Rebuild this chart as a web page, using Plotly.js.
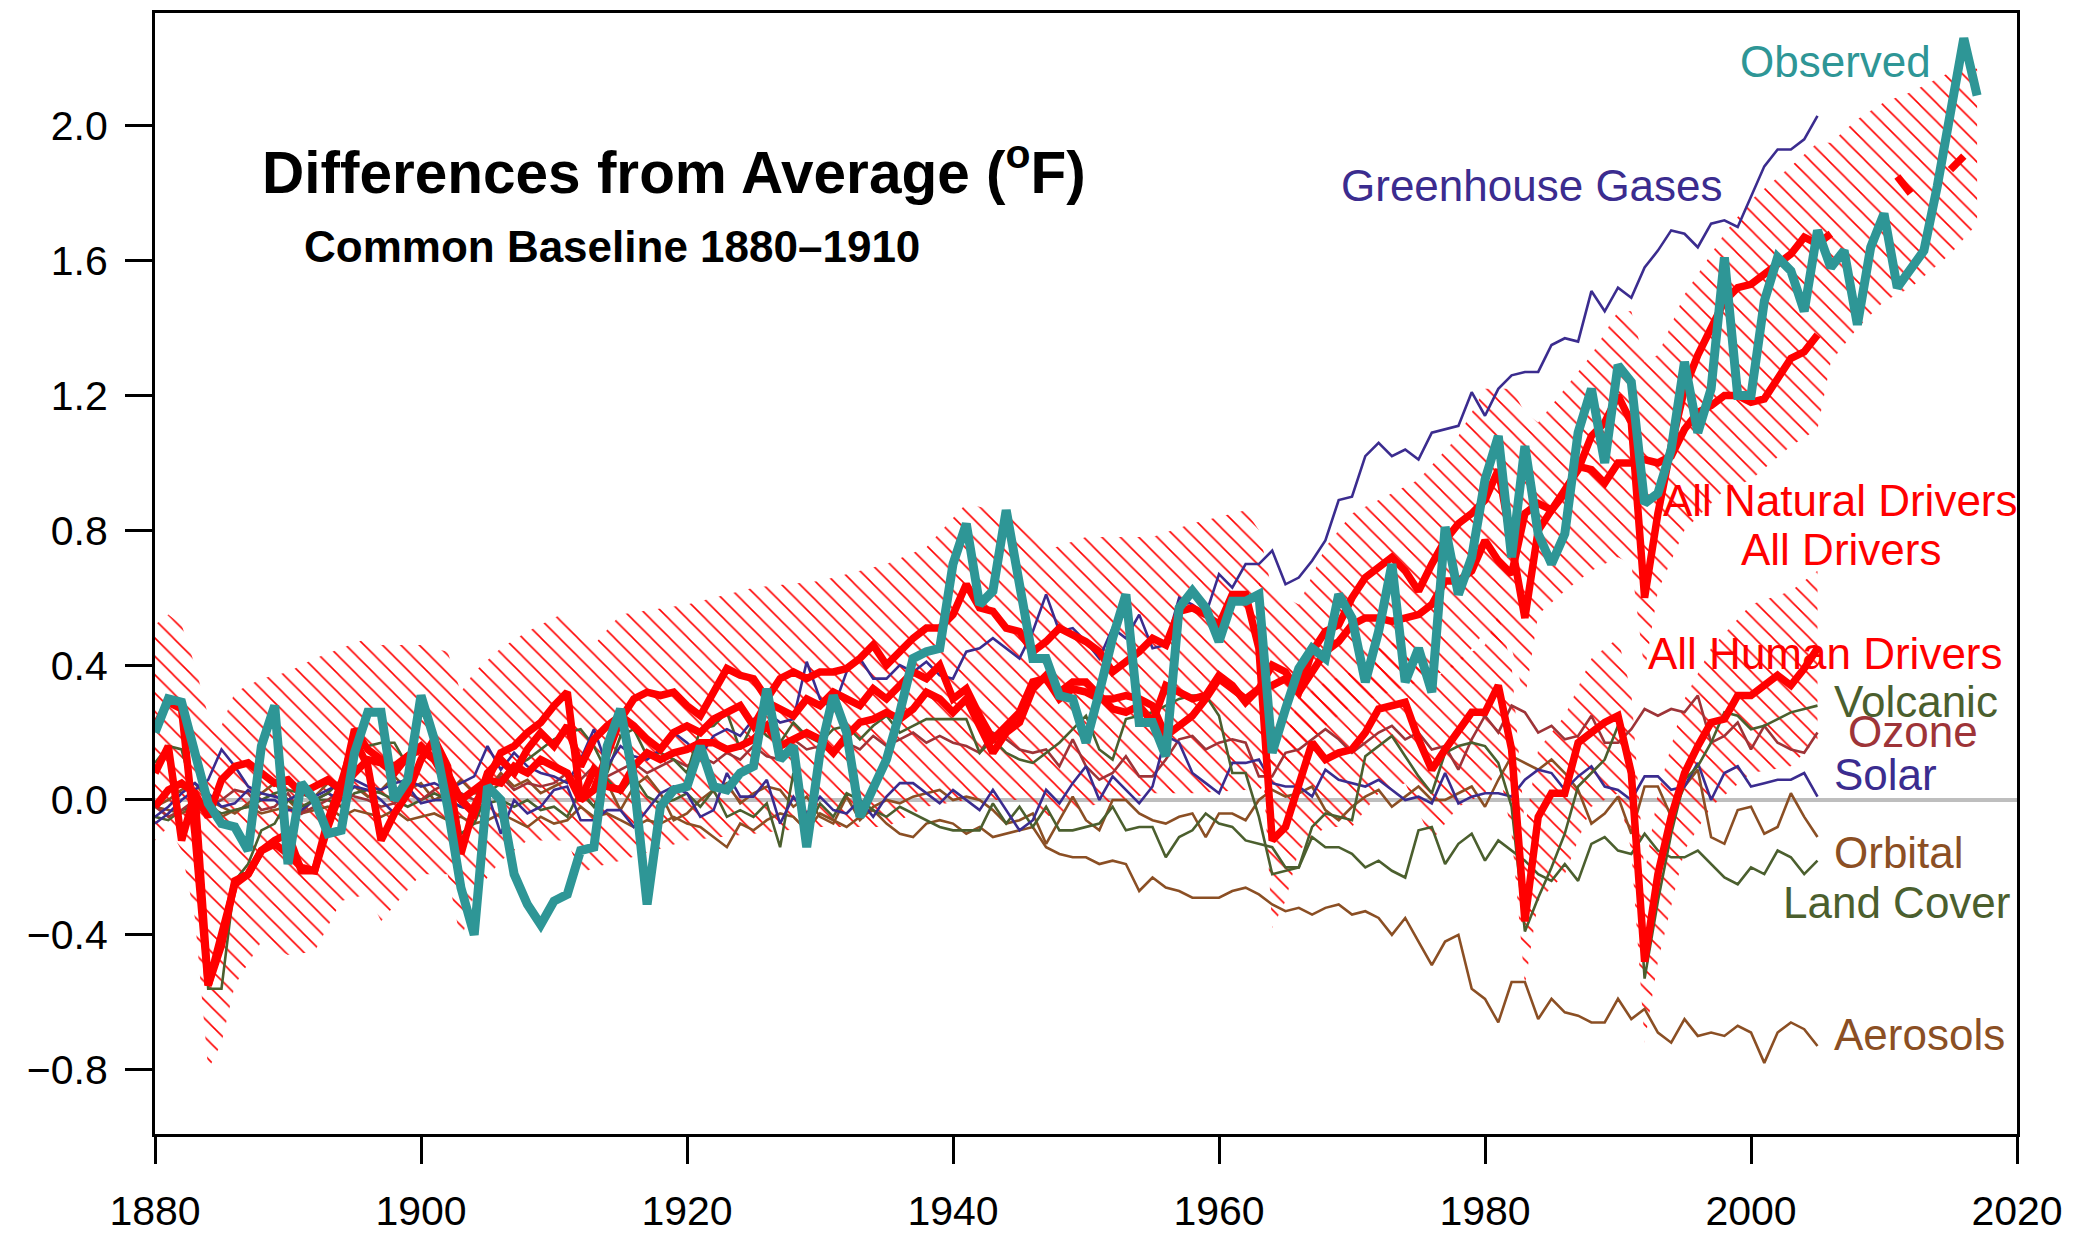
<!DOCTYPE html>
<html>
<head>
<meta charset="utf-8">
<script src="https://cdn.plot.ly/plotly-3.0.1.min.js"></script>
<style>html,body{margin:0;padding:0;background:#fff;}#chart{width:2077px;height:1241px;}</style>
</head>
<body>
<div id="chart"></div>
<script>
// ---------------- DATA ----------------
// Observed, 1880-2017
const observed = [
 0.20,0.30,0.29,0.14,-0.01,-0.07,-0.08,-0.15,0.16,0.28,
 -0.19,0.05,0.00,-0.10,-0.09,0.14,0.26,0.26,0.00,0.06,
 0.31,0.18,-0.02,-0.26,-0.40,0.04,0.00,-0.22,-0.31,-0.37,
 -0.30,-0.28,-0.15,-0.14,0.16,0.27,0.06,-0.31,-0.02,0.03,
 0.04,0.16,0.04,0.03,0.08,0.10,0.33,0.12,0.16,-0.14,
 0.14,0.31,0.20,-0.05,0.04,0.12,0.26,0.42,0.44,0.45,
 0.70,0.82,0.58,0.62,0.86,0.64,0.42,0.42,0.31,0.30,
 0.17,0.32,0.48,0.61,0.23,0.23,0.13,0.57,0.62,0.57,
 0.47,0.59,0.59,0.61,0.14,0.27,0.39,0.45,0.42,0.61,
 0.54,0.35,0.50,0.70,0.35,0.45,0.32,0.81,0.61,0.72,
 0.95,1.08,0.72,1.05,0.79,0.70,0.79,1.09,1.22,1.00,
 1.29,1.24,0.88,0.91,1.04,1.30,1.09,1.22,1.61,1.20,
 1.20,1.48,1.61,1.57,1.45,1.69,1.58,1.63,1.41,1.64,
 1.74,1.52,1.57,1.63,1.82,2.05,2.26,2.09];

// All Drivers, 1880-2006
const allDrivers = [
 0.22,0.29,0.27,-0.10,-0.55,-0.43,-0.24,-0.22,-0.15,-0.13,
 -0.16,-0.20,-0.21,-0.08,0.03,0.21,0.15,0.12,0.10,0.13,
 0.15,0.12,0.08,0.00,-0.04,0.08,0.12,0.08,0.15,0.20,
 0.16,0.22,0.10,0.18,0.22,0.25,0.22,0.18,0.15,0.20,
 0.22,0.20,0.24,0.26,0.28,0.22,0.29,0.27,0.25,0.30,
 0.28,0.32,0.30,0.28,0.33,0.30,0.34,0.38,0.36,0.40,
 0.30,0.33,0.25,0.18,0.22,0.26,0.35,0.36,0.30,0.33,
 0.32,0.30,0.30,0.31,0.30,0.28,0.19,0.22,0.25,0.30,
 0.36,0.33,0.30,0.33,0.34,0.36,0.32,0.44,0.50,0.52,
 0.60,0.66,0.69,0.72,0.68,0.62,0.70,0.77,0.82,0.85,
 0.89,0.98,0.76,0.54,0.80,0.86,0.92,0.98,1.08,1.12,
 1.20,1.12,0.60,0.85,1.05,1.22,1.32,1.40,1.48,1.52,
 1.53,1.56,1.59,1.62,1.67,1.65,1.68];
// All Drivers, recent pieces 2011-2016
const allDriversRecentYears = [2011,2012,2013,2014,2015,2016];
const allDriversRecent = [1.85,1.80,null,null,1.87,1.91];

// All Natural Drivers, 1880-2005
const natural = [
 0.08,0.16,-0.12,0.02,-0.55,-0.40,-0.25,-0.22,-0.15,-0.12,
 -0.10,-0.21,-0.21,-0.06,0.05,0.18,0.10,-0.12,-0.04,0.02,
 0.12,0.18,0.10,-0.16,-0.02,0.06,0.14,0.16,0.20,0.23,
 0.28,0.32,0.00,0.03,0.14,0.24,0.30,0.32,0.31,0.32,
 0.28,0.25,0.32,0.39,0.37,0.36,0.30,0.36,0.38,0.36,
 0.38,0.38,0.39,0.42,0.46,0.40,0.44,0.48,0.51,0.51,
 0.55,0.64,0.57,0.56,0.51,0.50,0.44,0.47,0.51,0.49,
 0.47,0.44,0.38,0.41,0.44,0.48,0.46,0.56,0.57,0.55,
 0.52,0.61,0.61,0.45,-0.12,-0.08,0.04,0.17,0.12,0.14,
 0.15,0.20,0.27,0.28,0.29,0.18,0.09,0.15,0.21,0.26,
 0.26,0.34,0.15,-0.36,-0.05,0.02,0.02,0.17,0.20,0.23,
 0.25,0.08,-0.48,-0.22,-0.05,0.08,0.16,0.23,0.24,0.31,
 0.31,0.34,0.37,0.34,0.39,0.45];

// All Human Drivers, 1880-2005
const human = [
 -0.02,0.03,0.05,0.02,-0.05,0.06,0.10,0.11,0.08,0.05,
 0.06,0.02,0.04,0.06,0.03,0.08,0.12,0.11,0.08,0.13,
 0.16,0.12,0.05,0.00,0.03,0.06,0.05,0.10,0.08,0.12,
 0.10,0.08,0.00,0.09,0.04,0.03,0.10,0.14,0.12,0.14,
 0.15,0.17,0.17,0.15,0.16,0.18,0.22,0.16,0.18,0.20,
 0.18,0.14,0.19,0.23,0.24,0.26,0.24,0.27,0.32,0.30,
 0.26,0.30,0.22,0.14,0.20,0.23,0.33,0.37,0.32,0.35,
 0.35,0.31,0.27,0.26,0.28,0.23,0.34,0.32,0.30,0.31,
 0.37,0.34,0.29,0.33,0.40,0.38,0.32,0.38,0.44,0.47,
 0.52,0.54,0.54,0.53,0.54,0.55,0.58,0.65,0.65,0.68,
 0.77,0.71,0.67,0.85,0.88,0.86,0.91,0.99,0.98,0.94,
 1.00,1.00,1.01,1.00,1.02,1.10,1.15,1.17,1.20,1.20,
 1.18,1.19,1.25,1.31,1.33,1.38];

// Individual drivers, 1880-2005
const greenhouse = [
 -0.07,-0.04,0.00,0.03,0.06,0.15,0.10,0.04,0.02,0.01,
 0.00,0.02,0.01,0.03,0.05,0.06,0.04,0.03,0.05,0.06,
 0.04,0.05,0.03,0.05,0.07,0.16,0.09,0.14,0.10,0.08,
 0.07,0.05,0.12,0.21,0.10,0.16,0.13,0.12,0.15,0.20,
 0.17,0.13,0.19,0.21,0.19,0.24,0.26,0.23,0.24,0.41,
 0.30,0.27,0.38,0.42,0.36,0.36,0.40,0.38,0.41,0.37,
 0.36,0.44,0.45,0.48,0.45,0.42,0.50,0.61,0.50,0.51,
 0.47,0.42,0.51,0.48,0.55,0.45,0.46,0.60,0.58,0.55,
 0.67,0.63,0.70,0.70,0.74,0.64,0.66,0.71,0.77,0.89,
 0.90,1.02,1.06,1.02,1.04,1.01,1.09,1.10,1.11,1.21,
 1.14,1.22,1.26,1.27,1.27,1.35,1.37,1.36,1.51,1.45,
 1.52,1.49,1.58,1.63,1.69,1.68,1.64,1.71,1.72,1.70,
 1.79,1.88,1.93,1.93,1.96,2.03];
const solar = [
 -0.05,-0.02,0.02,0.05,0.02,-0.02,-0.01,0.03,0.00,0.00,
 -0.03,-0.03,0.00,0.02,0.00,0.04,0.03,0.00,-0.04,0.04,
 -0.01,0.00,0.00,-0.02,-0.03,0.02,-0.10,0.00,-0.04,-0.02,
 0.03,0.04,-0.06,-0.06,-0.03,-0.03,-0.08,-0.03,0.02,0.04,
 0.02,-0.05,-0.03,0.08,0.01,0.01,0.06,-0.07,0.01,-0.04,
 0.01,-0.03,-0.04,0.00,-0.05,0.01,0.05,0.05,0.02,-0.01,
 0.03,0.00,-0.03,0.03,-0.03,-0.09,-0.06,0.03,-0.01,0.05,
 0.10,0.00,0.07,0.03,-0.01,0.04,0.19,0.17,0.08,0.05,
 0.02,0.11,0.11,0.12,0.05,0.04,0.04,0.01,0.09,0.06,
 0.05,0.04,0.06,0.03,0.00,0.01,-0.01,0.08,-0.01,0.01,
 0.02,0.02,0.01,0.06,0.09,0.08,0.03,0.07,0.10,0.04,
 0.03,0.00,0.07,0.07,0.03,0.04,0.11,0.00,0.08,0.10,
 0.04,0.05,0.06,0.06,0.08,0.01];
const volcanic = [
 0.11,0.16,0.15,0.00,-0.56,-0.56,-0.24,-0.19,-0.09,-0.07,
 0.00,-0.02,0.00,0.02,0.06,0.18,0.16,0.17,0.17,0.10,
 0.26,0.20,0.08,-0.10,-0.07,0.02,0.05,0.10,0.12,0.15,
 0.18,0.20,0.21,0.16,0.08,0.19,0.21,0.13,0.14,0.12,
 0.08,0.21,0.22,0.26,0.15,0.23,0.19,0.17,0.23,0.19,
 0.17,0.21,0.22,0.18,0.22,0.25,0.20,0.22,0.24,0.24,
 0.24,0.24,0.14,0.18,0.14,0.12,0.11,0.14,0.17,0.21,
 0.25,0.15,0.12,0.24,0.25,0.26,0.28,0.30,0.31,0.31,
 0.25,0.08,0.08,-0.05,-0.22,-0.21,-0.20,-0.08,-0.04,-0.05,
 -0.06,0.13,0.16,0.19,0.13,0.07,0.02,0.14,0.16,0.17,
 0.16,0.11,-0.02,-0.39,-0.29,-0.20,-0.10,0.04,0.08,0.12,
 0.22,0.08,-0.53,-0.30,-0.10,0.06,0.10,0.17,0.26,0.25,
 0.21,0.22,0.24,0.26,0.27,0.28];
const ozone = [
 -0.02,-0.05,-0.03,0.00,-0.02,0.00,0.03,0.02,-0.03,-0.02,
 0.02,-0.04,-0.02,0.00,0.03,0.01,0.00,-0.02,-0.01,0.02,
 0.00,0.03,0.05,0.02,0.00,0.04,0.07,0.03,0.05,0.04,
 0.05,0.08,0.06,0.10,0.07,0.09,0.11,0.08,0.10,0.12,
 0.10,0.13,0.11,0.14,0.12,0.16,0.13,0.12,0.18,0.15,
 0.16,0.14,0.17,0.15,0.19,0.16,0.18,0.20,0.17,0.19,
 0.17,0.16,0.14,0.20,0.18,0.15,0.14,0.15,0.10,0.18,
 0.10,0.06,0.08,0.13,0.07,0.07,0.12,0.18,0.19,0.15,
 0.17,0.18,0.17,0.07,0.07,0.14,0.15,0.18,0.21,0.18,
 0.14,0.17,0.20,0.22,0.18,0.20,0.15,0.16,0.09,0.18,
 0.25,0.20,0.28,0.26,0.20,0.22,0.18,0.19,0.25,0.17,
 0.17,0.21,0.27,0.25,0.27,0.26,0.31,0.17,0.19,0.23,
 0.15,0.22,0.17,0.15,0.14,0.20];
const orbital = [
 -0.02,0.00,0.03,0.05,0.00,-0.02,-0.04,-0.01,0.02,0.05,
 0.00,-0.04,0.01,0.05,0.02,0.04,0.01,0.03,0.07,0.03,
 0.05,0.00,0.02,0.06,0.02,0.03,0.08,0.04,0.06,0.02,
 0.04,0.06,0.02,-0.02,0.05,-0.03,0.04,0.07,0.02,-0.06,
 -0.04,0.00,0.03,0.05,-0.01,0.02,0.04,0.03,-0.02,0.01,
 -0.05,-0.07,0.01,-0.06,-0.02,0.00,-0.01,0.01,0.02,0.03,
 0.00,0.01,0.00,-0.03,-0.07,-0.06,-0.04,-0.13,-0.06,0.01,
 -0.06,-0.09,0.00,0.00,-0.04,-0.06,-0.07,-0.05,-0.04,-0.11,
 -0.04,-0.04,-0.06,0.00,0.03,0.01,0.02,0.04,-0.03,-0.06,
 -0.02,0.01,0.03,-0.02,0.01,0.04,0.00,0.00,0.02,0.04,
 -0.02,0.06,0.13,0.11,0.09,0.12,0.08,0.03,-0.07,-0.04,
 0.01,-0.10,0.04,0.04,-0.05,0.04,0.09,-0.11,-0.13,-0.03,
 -0.02,-0.10,-0.08,0.02,-0.05,-0.11];
const landCover = [
 -0.05,-0.06,-0.03,-0.02,-0.02,-0.04,-0.03,-0.02,0.00,0.02,
 0.03,0.02,0.00,0.00,-0.02,0.02,0.03,0.02,0.00,-0.02,
 0.00,0.02,0.00,-0.02,-0.03,-0.01,0.00,-0.02,0.00,-0.03,
 -0.02,-0.05,0.03,-0.02,0.06,0.02,0.07,0.01,-0.01,0.00,
 0.02,-0.02,0.03,-0.05,-0.03,-0.05,-0.01,-0.14,0.08,-0.09,
 -0.01,-0.05,0.02,0.00,-0.03,-0.05,-0.02,-0.04,-0.06,-0.08,
 -0.09,-0.09,-0.09,-0.01,-0.07,-0.02,-0.08,-0.02,-0.09,-0.09,
 -0.08,-0.07,-0.02,-0.09,-0.08,-0.08,-0.17,-0.11,-0.09,-0.04,
 -0.07,-0.08,-0.12,-0.13,-0.14,-0.20,-0.20,-0.11,-0.14,-0.14,
 -0.16,-0.20,-0.18,-0.21,-0.23,-0.09,-0.08,-0.19,-0.13,-0.10,
 -0.18,-0.12,-0.15,-0.18,-0.22,-0.24,-0.19,-0.24,-0.13,-0.11,
 -0.15,-0.16,-0.10,-0.15,-0.17,-0.17,-0.15,-0.19,-0.23,-0.25,
 -0.20,-0.22,-0.15,-0.17,-0.22,-0.18];
const aerosols = [
 -0.02,-0.03,-0.04,-0.02,-0.04,-0.05,-0.03,-0.02,-0.04,-0.03,
 -0.02,-0.04,-0.03,-0.02,-0.05,-0.03,-0.04,-0.05,-0.03,-0.06,
 -0.05,-0.04,-0.06,-0.05,-0.07,-0.06,-0.04,-0.06,-0.08,-0.05,
 -0.07,-0.06,-0.02,-0.05,-0.04,-0.06,-0.08,-0.06,-0.07,-0.05,
 -0.07,-0.08,-0.11,-0.14,-0.07,-0.09,-0.06,-0.04,-0.05,-0.09,
 -0.04,-0.06,-0.08,-0.05,-0.03,-0.07,-0.10,-0.11,-0.07,-0.06,
 -0.07,-0.10,-0.08,-0.11,-0.10,-0.09,-0.08,-0.14,-0.16,-0.17,
 -0.17,-0.19,-0.18,-0.19,-0.27,-0.23,-0.26,-0.27,-0.29,-0.29,
 -0.29,-0.27,-0.26,-0.28,-0.31,-0.33,-0.32,-0.34,-0.32,-0.31,
 -0.34,-0.33,-0.35,-0.40,-0.35,-0.42,-0.49,-0.42,-0.40,-0.56,
 -0.59,-0.66,-0.54,-0.54,-0.65,-0.59,-0.63,-0.64,-0.66,-0.66,
 -0.59,-0.65,-0.62,-0.69,-0.72,-0.65,-0.70,-0.69,-0.70,-0.67,
 -0.69,-0.78,-0.69,-0.66,-0.68,-0.73];

// Hatched uncertainty ranges (outline vertices)
const rangeMainYears = [1880,1881,1882,1883,1884,1885,1886,1888,1890,1892,
 1894,1896,1897,1900,1902,1903,1904,1906,1908,1911,
 1912,1913,1915,1920,1925,1930,1935,1938,1941,1945,
 1947,1950,1955,1958,1962,1963,1964,1966,1968,1970,
 1975,1978,1980,1982,1983,1984,1986,1988,1990,1991,
 1992,1993,1995,1998,2000,2003,2005,2006,2008,2010,
 2012,2015,2017];
const rangeMainHigh = [0.52,0.55,0.52,0.40,0.25,0.22,0.32,0.36,0.38,0.42,
 0.45,0.48,0.46,0.46,0.44,0.32,0.38,0.45,0.50,0.56,
 0.48,0.46,0.55,0.58,0.63,0.65,0.70,0.75,0.88,0.84,
 0.74,0.78,0.78,0.82,0.86,0.80,0.62,0.58,0.75,0.85,
 0.95,1.08,1.22,1.22,1.15,1.12,1.22,1.32,1.45,1.45,
 1.30,1.32,1.50,1.68,1.78,1.88,1.95,1.95,2.02,2.07,
 2.10,2.16,2.17];
const rangeMainLow = [-0.12,-0.08,-0.15,-0.35,-0.80,-0.72,-0.55,-0.42,-0.46,-0.45,
 -0.30,-0.28,-0.36,-0.22,-0.22,-0.42,-0.28,-0.18,-0.12,-0.12,
 -0.22,-0.20,-0.18,-0.12,-0.10,-0.08,-0.08,-0.02,0.00,0.00,
 -0.05,-0.02,0.02,0.02,0.03,0.02,0.10,0.12,0.22,0.28,
 0.35,0.40,0.50,0.45,0.30,0.55,0.62,0.68,0.72,0.70,
 0.38,0.62,0.80,0.92,0.95,1.05,1.10,1.30,1.40,1.48,
 1.52,1.62,1.71];
const rangeNaturalYears = [1963,1964,1965,1966,1968,1970,1972,1974,1976,1978,
 1980,1981,1982,1983,1984,1986,1988,1990,1991,1992,
 1993,1995,1997,2000,2003,2005];
const rangeNaturalHigh = [0.70,0.20,0.18,0.30,0.35,0.38,0.45,0.48,0.35,0.42,
 0.46,0.55,0.40,-0.08,0.15,0.25,0.42,0.48,0.32,-0.22,
 0.02,0.30,0.45,0.58,0.62,0.68];
const rangeNaturalLow = [0.30,-0.38,-0.30,-0.15,-0.08,-0.08,0.02,0.05,-0.12,-0.02,
 0.02,0.10,-0.10,-0.55,-0.30,-0.22,-0.02,0.02,-0.15,-0.72,
 -0.48,-0.15,-0.02,0.08,0.10,0.18];

// Axis ticks and text
const xTicks = [1880,1900,1920,1940,1960,1980,2000,2020];
const yTicks = [-0.8,-0.4,0.0,0.4,0.8,1.2,1.6,2.0];
const titleText = 'Differences from Average (<sup>o</sup>F)';
const subtitleText = 'Common Baseline 1880\u20131910';
const seriesLabels = ['Observed','Greenhouse Gases','All Natural Drivers','All Drivers',
  'All Human Drivers','Volcanic','Ozone','Solar','Orbital','Land Cover','Aerosols'];

// ---------------- CHART ----------------
function yearsFrom(start, n){ const a=[]; for(let i=0;i<n;i++) a.push(start+i); return a; }
const FONT = 'Liberation Sans, Arial, Helvetica, sans-serif';
const RED = '#FF0000', TEAL = '#2E9696', NAVY = '#3B2C8F', GREEN = '#4B5F2E',
      OZ = '#9E3438', BROWN = '#8B4F24';

function band(xs, hi, lo, name){
  return {
    type:'scatter', mode:'none', name:name, hoverinfo:'skip', showlegend:false,
    x: xs.concat(xs.slice().reverse()),
    y: hi.concat(lo.slice().reverse()),
    fill:'toself', fillcolor:'rgba(0,0,0,0)',
    fillpattern:{shape:'\\', fgcolor:RED, bgcolor:'rgba(0,0,0,0)', size:13, solidity:0.12, fillmode:'replace'}
  };
}
function line(xs, ys, color, width, name){
  return {type:'scatter', mode:'lines', name:name, x:xs, y:ys, hoverinfo:'skip', showlegend:false,
          line:{color:color, width:width, shape:'linear'}, connectgaps:false};
}

const yrsLong = yearsFrom(1880, observed.length);
const yrsDrv = yearsFrom(1880, allDrivers.length);
const yrs = yearsFrom(1880, natural.length);

const traces = [
  band(rangeMainYears, rangeMainHigh, rangeMainLow, 'range'),
  band(rangeNaturalYears, rangeNaturalHigh, rangeNaturalLow, 'range natural'),
  line(yrs, aerosols, BROWN, 2.6, 'Aerosols'),
  line(yrs, orbital, BROWN, 2.6, 'Orbital'),
  line(yrs, landCover, GREEN, 2.6, 'Land Cover'),
  line(yrs, ozone, OZ, 2.6, 'Ozone'),
  line(yrs, solar, NAVY, 2.6, 'Solar'),
  line(yrs, volcanic, GREEN, 2.6, 'Volcanic'),
  line(yrs, greenhouse, NAVY, 2.6, 'Greenhouse Gases'),
  line(yrs, natural, RED, 7.5, 'All Natural Drivers'),
  line(yrs, human, RED, 7.5, 'All Human Drivers'),
  line(yrsDrv, allDrivers, RED, 7.5, 'All Drivers'),
  line(allDriversRecentYears, allDriversRecent, RED, 7.5, 'All Drivers recent'),
  line(yrsLong, observed, TEAL, 9, 'Observed')
];

const labelPos = [
  [1999.1, 2.190, TEAL], [1969.1, 1.822, NAVY], [1993.3, 0.888, RED], [1999.2, 0.742, RED],
  [1992.15, 0.435, RED], [2006.2, 0.292, GREEN], [2007.2, 0.202, OZ], [2006.2, 0.075, NAVY],
  [2006.2, -0.157, BROWN], [2002.3, -0.303, GREEN], [2006.2, -0.696, BROWN]
];
const annotations = seriesLabels.map((t,i)=>({
  text:t, x:labelPos[i][0], y:labelPos[i][1], xref:'x', yref:'y', xanchor:'left', yanchor:'middle',
  showarrow:false, borderpad:0, font:{family:FONT, size:44, color:labelPos[i][2]}
}));
annotations.push({text:'<b>'+titleText+'</b>', xref:'paper', yref:'paper', x:0.0569, y:0.862,
  xanchor:'left', yanchor:'middle', showarrow:false, borderpad:0, font:{family:FONT, size:58.5, color:'#000'}});
annotations.push({text:'<b>'+subtitleText+'</b>', xref:'paper', yref:'paper', x:0.0795, y:0.7913,
  xanchor:'left', yanchor:'middle', showarrow:false, borderpad:0, font:{family:FONT, size:44, color:'#000'}});

const layout = {
  width:2077, height:1241,
  margin:{l:155, r:60, t:13, b:107, pad:0},
  paper_bgcolor:'#fff', plot_bgcolor:'#fff',
  showlegend:false,
  font:{family:FONT, color:'#000'},
  xaxis:{range:[1880,2020], tickvals:xTicks, ticks:'outside', ticklen:27, tickwidth:3, tickcolor:'#000',
         showline:true, linewidth:3, linecolor:'#000', mirror:true, showgrid:false, zeroline:false,
         tickfont:{family:FONT, size:41, color:'#000'}, ticklabelstandoff:12, fixedrange:true},
  yaxis:{range:[-0.991,2.335], tickvals:yTicks, tickformat:'.1f', ticks:'outside', ticklen:27, tickwidth:3,
         tickcolor:'#000', showline:true, linewidth:3, linecolor:'#000', mirror:true, showgrid:false,
         zeroline:true, zerolinecolor:'#BEBEBE', zerolinewidth:4,
         tickfont:{family:FONT, size:41, color:'#000'}, ticklabelstandoff:9, fixedrange:true},
  annotations:annotations
};

Plotly.newPlot('chart', traces, layout, {staticPlot:true, displayModeBar:false});
</script>
</body>
</html>
